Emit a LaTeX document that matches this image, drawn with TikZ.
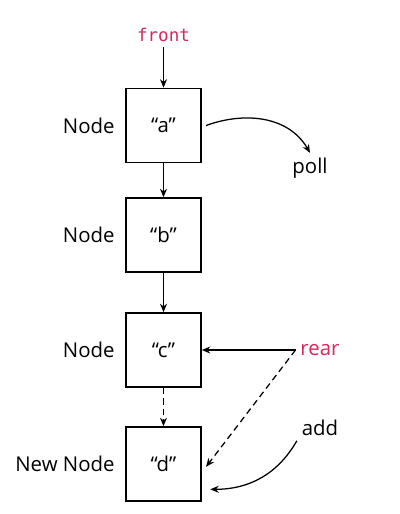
\documentclass[tikz,border=0pt]{standalone}
\usepackage{fontspec}
\setmainfont{Open Sans}
\setmonofont{DejaVu Sans Mono}
\usetikzlibrary{positioning,arrows.meta}
\definecolor{qred}{RGB}{214,40,92}
\tikzset{
  cell/.style={draw,very thick,minimum width=1.875cm,minimum height=1.85cm,font=\fontsize{14.5}{17}\selectfont},
  lbl/.style={font=\fontsize{14.5}{17}\selectfont},
  ptr/.style={-{Stealth[length=6pt,width=5pt]},line width=0.9pt},
  dsh/.style={dash pattern=on 4.5pt off 3pt}
}
\begin{document}
\begin{tikzpicture}[x=0.025cm,y=-0.025cm]
   \useasboundingbox (0,0) rectangle (400,514);
   \node[cell] (a) at (163.5,125.5) {“a”};
   \node[cell] (b) at (163.5,235) {“b”};
   \node[cell] (c) at (163.5,350) {“c”};
   \node[cell] (d) at (163.5,464) {“d”};
   \node[lbl,left=4pt of a] (la) {Node};
   \node[lbl,left=4pt of b] (lb) {Node};
   \node[lbl,left=4pt of c] (lc) {Node};
   \node[lbl,left=4pt of d] (ld) {New Node};
   \node[lbl,text=qred,font=\ttfamily\fontsize{12.5}{14}\selectfont] (front) at (163.5,35) {front};
   \node[lbl] (poll) at (310,168) {poll};
   \node[lbl,text=qred] (rear) at (320,350) {rear};
   \node[lbl] (add) at (320,428) {add};
   \draw[ptr] (front) -- (a);
   \draw[ptr] (a) -- (b);
   \draw[ptr] (b) -- (c);
   \draw[ptr,dsh] (c) -- (d);
   \draw[ptr] (rear) -- (c);
   \draw[ptr,dsh] (rear.west) -- ([xshift=3pt,yshift=-2pt]d.east);
   \draw[ptr] ([xshift=3pt]a.east) to[out=20,in=120] (poll.north);
   \draw[ptr] (add.south west) to[out=-120,in=0] ([xshift=6pt,yshift=-18pt]d.east);
\end{tikzpicture}
\end{document}
